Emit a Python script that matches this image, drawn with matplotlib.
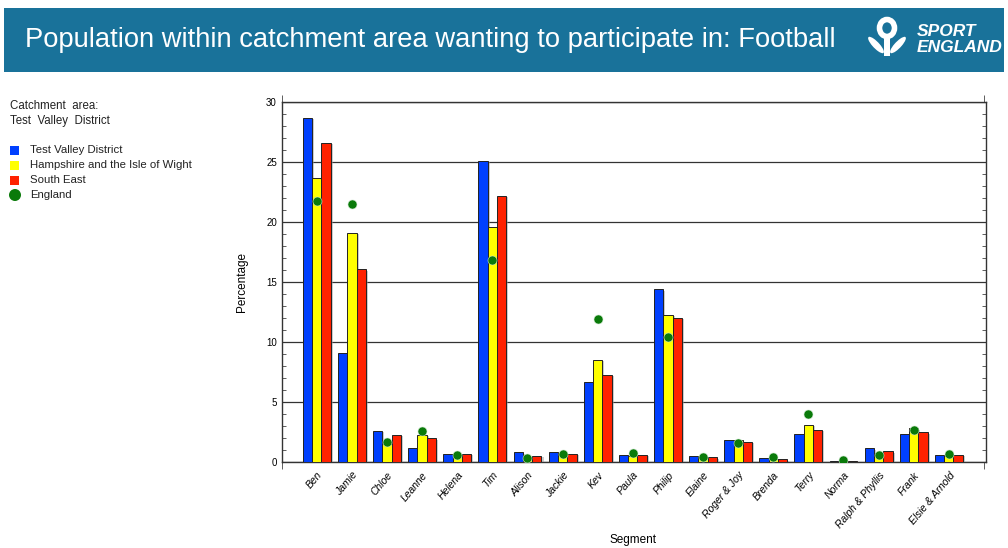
import matplotlib.pyplot as plt
import matplotlib.patheffects as pe
import numpy as np
from matplotlib.patches import Rectangle, Ellipse

plt.rcParams['font.family'] = ['Liberation Sans', 'DejaVu Sans']

# data
segments = ['Ben', 'Jamie', 'Chloe', 'Leanne', 'Helena', 'Tim', 'Alison', 'Jackie',
            'Kev', 'Paula', 'Philip', 'Elaine', 'Roger & Joy', 'Brenda', 'Terry',
            'Norma', 'Ralph & Phyllis', 'Frank', 'Elsie & Arnold']
test_valley = [28.7, 9.1, 2.6, 1.15, 0.65, 25.1, 0.8, 0.8, 6.65, 0.55, 14.4, 0.5,
               1.85, 0.3, 2.3, 0.07, 1.13, 2.3, 0.55]
hampshire = [23.7, 19.1, 1.5, 2.25, 0.55, 19.6, 0.4, 0.6, 8.5, 0.5, 12.25, 0.35,
             1.8, 0.2, 3.1, 0.05, 0.75, 2.8, 0.5]
south_east = [26.6, 16.05, 2.25, 1.95, 0.65, 22.2, 0.47, 0.65, 7.25, 0.55, 12.0, 0.38,
              1.65, 0.19, 2.65, 0.07, 0.88, 2.45, 0.55]
england = [21.75, 21.55, 1.65, 2.55, 0.57, 16.85, 0.33, 0.65, 11.95, 0.75, 10.45, 0.38,
           1.57, 0.38, 4.0, 0.15, 0.58, 2.65, 0.65]

series_names = ['Test Valley District', 'Hampshire and the Isle of Wight', 'South East', 'England']
colors = ['#0040FF', '#FFFF00', '#FF2200']
green = '#0A7A0A'

fig = plt.figure(figsize=(10.08, 5.48), dpi=100)

# banner
fig.patches.append(Rectangle((4/1008, 1 - 72/548), 1000/1008, 64/548,
                             transform=fig.transFigure, facecolor='#19729A',
                             edgecolor='none', zorder=0))
fig.text(25/1008, 1 - 40/548, 'Population within catchment area wanting to participate in: Football',
         color='white', fontsize=19.7, va='center', ha='left')

# rough Sport England logo
fig.patches.append(Ellipse((887/1008, 1 - 28/548), 15/1008, 17/548, transform=fig.transFigure,
                           facecolor='none', edgecolor='white', linewidth=4))
fig.patches.append(Rectangle((884/1008, 1 - 56/548), 6/1008, 18/548, transform=fig.transFigure,
                             facecolor='white', edgecolor='none'))
fig.patches.append(Ellipse((876/1008, 1 - 45/548), 8/1008, 18/548, angle=25,
                           transform=fig.transFigure, facecolor='white', edgecolor='none'))
fig.patches.append(Ellipse((898/1008, 1 - 45/548), 8/1008, 18/548, angle=-25,
                           transform=fig.transFigure, facecolor='white', edgecolor='none'))
fig.text(917/1008, 1 - 31/548, 'SPORT', color='white', fontsize=12.5, fontweight='bold',
         style='italic', va='center', ha='left')
fig.text(917/1008, 1 - 47/548, 'ENGLAND', color='white', fontsize=12.5, fontweight='bold',
         style='italic', va='center', ha='left')

# left-hand legend
fig.text(10/1008, 1 - 106/548, 'Catchment  area:', fontsize=8.3, color='#222222', va='center')
fig.text(10/1008, 1 - 121/548, 'Test  Valley  District', fontsize=8.3, color='#222222', va='center')
leg_y = [150, 165, 180, 195]
for i, name in enumerate(series_names):
    y = 1 - leg_y[i] / 548
    if i < 3:
        fig.patches.append(Rectangle((10/1008, y - 4.5/548), 9/1008, 9/548,
                                     transform=fig.transFigure, facecolor=colors[i],
                                     edgecolor='none'))
    else:
        fig.patches.append(Ellipse((15/1008, y), 12/1008, 12/548, transform=fig.transFigure,
                                   facecolor=green, edgecolor='none'))
    fig.text(30/1008, y, name, fontsize=8.2, color='#222222', va='center')

# chart
ax = fig.add_axes([281.7/1008, 1 - 461.7/548, 704/1008, 359.4/548])
x = np.arange(len(segments))
w = 0.265
shadow = [pe.SimplePatchShadow(offset=(1.5, -1.0), shadow_rgbFace='#999999', alpha=0.5),
          pe.Normal()]
for i, vals in enumerate([test_valley, hampshire, south_east]):
    bars = ax.bar(x + (i - 1) * w, vals, width=w, color=colors[i], edgecolor='#222222',
                  linewidth=0.7, zorder=3)
    for b in bars:
        b.set_path_effects(shadow)
ax.plot(x, england, 'o', color=green, markersize=6.5, markeredgecolor='#cfe8cf',
        markeredgewidth=0.4, zorder=4)

ax.set_xlim(-1, 19.05)
ax.set_ylim(0, 30)
ax.set_yticks(np.arange(0, 31, 5))
ax.set_yticks(np.arange(0, 31, 1), minor=True)
ax.yaxis.grid(True, which='major', color='#333333', linewidth=0.9, zorder=0)
ax.tick_params(axis='y', which='both', direction='in', left=True, right=True,
               labelsize=7, length=3, color='#444444')
ax.tick_params(axis='y', which='major', length=0)

ax.set_xticks(x)
ax.set_xticklabels(segments, rotation=50, ha='right', rotation_mode='anchor',
                   style='italic', fontsize=7.5)
ax.tick_params(axis='x', which='major', length=0, pad=6)
ax.set_xticks([-1, 4, 9, 14, 19], minor=True)
ax.tick_params(axis='x', which='minor', direction='out', top=True, bottom=True,
               length=5, color='#444444')

for s in ax.spines.values():
    s.set_color('#333333')
    s.set_linewidth(1.0)

ax.set_ylabel('Percentage', fontsize=8.5, labelpad=13)
fig.text(633/1008, 1 - 540/548, 'Segment', fontsize=8.5, ha='center', va='center')

fig.savefig('out.png', dpi=100)
